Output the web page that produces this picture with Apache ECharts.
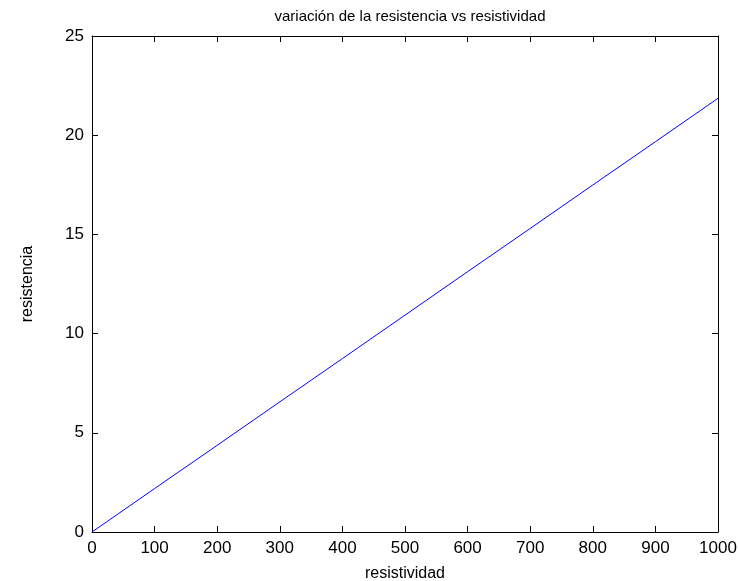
<!DOCTYPE html>
<html>
<head>
<meta charset="utf-8">
<script src="https://cdn.jsdelivr.net/npm/echarts@6/dist/echarts.min.js"></script>
<style>
  html, body { margin: 0; padding: 0; background: #fff; }
  #chart { width: 738px; height: 581px; }
</style>
</head>
<body>
<div id="chart"></div>
<script>
// datos
var resistividad = [0, 100, 200, 300, 400, 500, 600, 700, 800, 900, 1000];
var resistencia = [0, 2.19, 4.37, 6.56, 8.74, 10.93, 13.12, 15.30, 17.49, 19.67, 21.86];
var xTicks = [0, 100, 200, 300, 400, 500, 600, 700, 800, 900, 1000];
var yTicks = [0, 5, 10, 15, 20, 25];

var fuente = 'Liberation Sans';
var chart = echarts.init(document.getElementById('chart'));

function ejeX(pos, labels) {
    return {
        type: 'value', position: pos, min: xTicks[0], max: xTicks[xTicks.length - 1], interval: 100,
        name: labels ? 'resistividad' : '', nameLocation: 'middle', nameGap: 34,
        nameTextStyle: { fontFamily: fuente, fontSize: 16, color: '#000' },
        axisLine: { show: true, onZero: false, lineStyle: { color: '#000', width: 1 } },
        axisTick: { show: true, inside: true, length: 6, lineStyle: { color: '#000' } },
        axisLabel: {
            show: labels, margin: 8, fontFamily: fuente, fontSize: 17, color: '#000',
            formatter: function (v) { return String(v); }
        },
        splitLine: { show: false }
    };
}
function ejeY(pos, labels) {
    return {
        type: 'value', position: pos, min: yTicks[0], max: yTicks[yTicks.length - 1], interval: 5,
        name: labels ? 'resistencia' : '', nameLocation: 'middle', nameGap: 56,
        nameTextStyle: { fontFamily: fuente, fontSize: 16, color: '#000' },
        axisLine: { show: true, onZero: false, lineStyle: { color: '#000', width: 1 } },
        axisTick: { show: true, inside: true, length: 6, lineStyle: { color: '#000' } },
        axisLabel: { show: labels, margin: 8, fontFamily: fuente, fontSize: 17, color: '#000' },
        splitLine: { show: false }
    };
}

var option = {
    backgroundColor: '#fff',
    animation: false,
    title: {
        text: 'variación de la resistencia vs resistividad',
        left: 405, top: 4, textAlign: 'center',
        textStyle: { fontFamily: fuente, fontSize: 15, fontWeight: 'normal', color: '#000' }
    },
    grid: { left: 92, right: 20, top: 36, bottom: 49, containLabel: false, outerBoundsMode: 'none' },
    xAxis: [ejeX('bottom', true), ejeX('top', false)],
    yAxis: [ejeY('left', true), ejeY('right', false)],
    series: [{
        type: 'line',
        data: resistividad.map(function (x, i) { return [x, resistencia[i]]; }),
        showSymbol: false,
        lineStyle: { color: '#0000ff', width: 1 }
    }]
};
chart.setOption(option);
</script>
</body>
</html>
